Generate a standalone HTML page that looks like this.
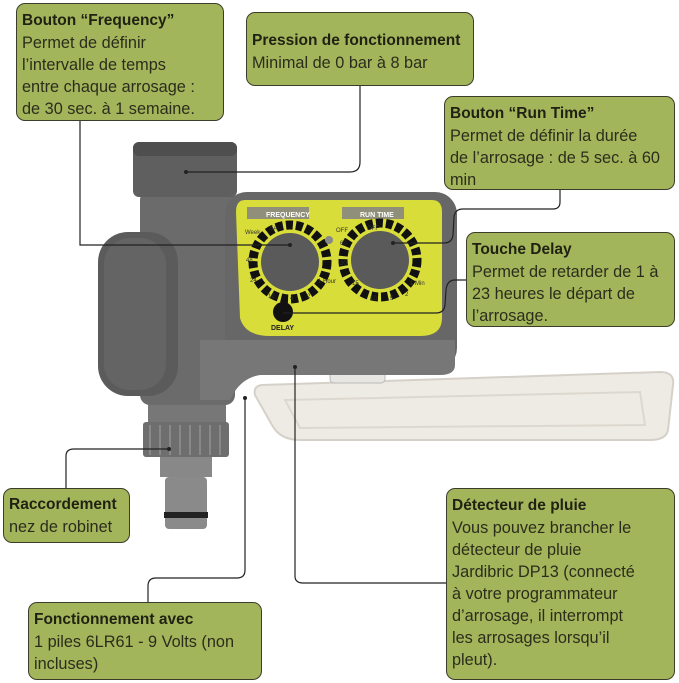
<!DOCTYPE html>
<html><head><meta charset="utf-8"><style>
html,body{margin:0;padding:0;background:#fff;}
body{width:679px;height:683px;position:relative;overflow:hidden;font-family:"Liberation Sans",sans-serif;}
.b{position:absolute;background:#a3b55b;border:1.5px solid #3b3d2a;border-radius:9px;box-sizing:border-box;padding:5px 5px;font-size:16.3px;line-height:22px;color:#2b2d1c;white-space:nowrap;overflow:hidden;}
.b b{color:#1f2112;font-size:15.5px;}
svg{position:absolute;left:0;top:0;}
</style></head><body>
<svg width="679" height="683" viewBox="0 0 679 683">
<path d="M262 385 L660 372 Q675 372 673 385 L668 430 Q666 440 650 440 L300 440 Q280 440 272 425 L255 395 Q253 386 262 385Z" fill="#eeebe4" stroke="#d6d1c8" stroke-width="2"/>
<path d="M285 400 L640 392 L645 425 L300 428Z" fill="none" stroke="#ddd8cf" stroke-width="2"/>
<rect x="330" y="365" width="55" height="18" rx="4" fill="#e8e6e2" stroke="#bbb"/>
<rect x="148" y="400" width="78" height="22" fill="#777"/>
<rect x="143" y="422" width="86" height="35" rx="3" fill="#6e6e6e"/>
<g stroke="#888" stroke-width="2"><line x1="150" y1="425" x2="150" y2="455"/><line x1="160" y1="425" x2="160" y2="455"/><line x1="170" y1="425" x2="170" y2="455"/><line x1="180" y1="425" x2="180" y2="455"/><line x1="190" y1="425" x2="190" y2="455"/><line x1="200" y1="425" x2="200" y2="455"/><line x1="210" y1="425" x2="210" y2="455"/><line x1="220" y1="425" x2="220" y2="455"/></g>
<rect x="160" y="457" width="52" height="20" fill="#888"/>
<rect x="165" y="477" width="42" height="52" rx="4" fill="#8a8a8a"/>
<rect x="164" y="512" width="44" height="6" fill="#222"/>
<rect x="140" y="190" width="95" height="215" rx="10" fill="#6b6b6b"/>
<rect x="133" y="142" width="104" height="55" rx="6" fill="#5f5f5f"/>
<rect x="133" y="142" width="104" height="14" rx="6" fill="#4e4e4e"/>
<rect x="225" y="192" width="232" height="178" rx="22" fill="#676767"/>
<path d="M200 340 L455 340 L455 365 Q455 375 440 375 L260 375 Q240 378 230 400 L200 400Z" fill="#777"/>
<rect x="98" y="232" width="80" height="164" rx="30" fill="#5b5b5b"/>
<rect x="104" y="238" width="62" height="152" rx="26" fill="#646464"/>
<path d="M245 200 L432 200 Q442 200 442 212 L442 318 Q442 336 420 336 L270 336 Q245 336 240 318 L236 212 Q236 200 245 200Z" fill="#d8dd3a"/>
<rect x="247" y="207" width="62" height="12" fill="#8f8f7a"/>
<rect x="342" y="207" width="62" height="12" fill="#8f8f7a"/>
<text x="266" y="217" font-size="7" fill="#fff" font-weight="bold">FREQUENCY</text>
<text x="360" y="217" font-size="7" fill="#fff" font-weight="bold">RUN TIME</text>
<circle cx="290" cy="262" r="37" fill="none" stroke="#111" stroke-width="9" stroke-dasharray="7 3"/>
<circle cx="380" cy="260" r="37" fill="none" stroke="#111" stroke-width="9" stroke-dasharray="7 3"/>
<circle cx="290" cy="262" r="29" fill="#5a5a5a"/>
<circle cx="380" cy="260" r="29" fill="#5a5a5a"/>
<circle cx="329" cy="240" r="4" fill="#888"/>
<circle cx="283" cy="312" r="10" fill="#111"/>
<text x="271" y="330" font-size="7" font-weight="bold" fill="#222">DELAY</text>
<g font-size="6" fill="#333"><text x="245" y="234">Week</text><text x="270" y="230">5A</text><text x="246" y="262">48</text><text x="250" y="282">24</text><text x="268" y="298">12</text><text x="290" y="300">4</text><text x="307" y="298">2</text><text x="318" y="283">1 Hour</text><text x="336" y="232">OFF</text><text x="367" y="230">OFF</text><text x="340" y="245">60</text><text x="340" y="265">30</text><text x="352" y="285">15</text><text x="370" y="300">10</text><text x="390" y="300">5</text><text x="405" y="296">2</text><text x="410" y="285">1 Min</text></g>
<g fill="none" stroke="#222" stroke-width="1.2">
<path d="M80 121 L80 245 L290 245"/>
<path d="M360 86 L360 162 Q360 172 350 172 L186 172"/>
<path d="M560 190 L560 202 Q560 209 553 209 L463 209 Q455 209 454 217 L453 235 Q452 243 444 243 L393 243"/>
<path d="M466 280 L455 280 Q447 280 446 290 L445 305 Q444 313 436 313 L283 313"/>
<path d="M66 488 L66 456 Q66 449 74 449 L169 449"/>
<path d="M245 398 L245 570 Q245 578 237 578 L156 578 Q148 578 148 586 L148 602"/>
<path d="M295 367 L295 576 Q295 583 303 583 L446 583"/>
</g>
<g fill="#222"><circle cx="186" cy="172" r="2"/><circle cx="393" cy="243" r="2"/><circle cx="169" cy="449" r="2"/><circle cx="245" cy="398" r="2"/><circle cx="295" cy="367" r="2"/><circle cx="290" cy="245" r="2"/></g>
</svg>
<div class="b" style="left:16px;top:3px;width:208px;height:118px;"><b>Bouton “Frequency”</b><br>Permet de définir<br>l’intervalle de temps<br>entre chaque arrosage :<br>de 30 sec. à 1 semaine.</div>
<div class="b" style="left:246px;top:12px;width:228px;height:74px;padding-top:16px;"><b>Pression de fonctionnement</b><br>Minimal de 0 bar à 8 bar</div>
<div class="b" style="left:444px;top:96px;width:231px;height:94px;"><b>Bouton “Run Time”</b><br>Permet de définir la durée<br>de l’arrosage : de 5 sec. à 60<br>min</div>
<div class="b" style="left:466px;top:232px;width:209px;height:95px;"><b>Touche Delay</b><br>Permet de retarder de 1 à<br>23 heures le départ de<br>l’arrosage.</div>
<div class="b" style="left:3px;top:488px;width:127px;height:55px;padding-top:4px;"><b>Raccordement</b><br>nez de robinet</div>
<div class="b" style="left:28px;top:602px;width:234px;height:78px;"><b>Fonctionnement avec</b><br>1 piles 6LR61 - 9 Volts (non<br>incluses)</div>
<div class="b" style="left:446px;top:488px;width:229px;height:192px;"><b>Détecteur de pluie</b><br>Vous pouvez brancher le<br>détecteur de pluie<br>Jardibric DP13 (connecté<br>à votre programmateur<br>d’arrosage, il interrompt<br>les arrosages lorsqu’il<br>pleut).</div>
</body></html>
